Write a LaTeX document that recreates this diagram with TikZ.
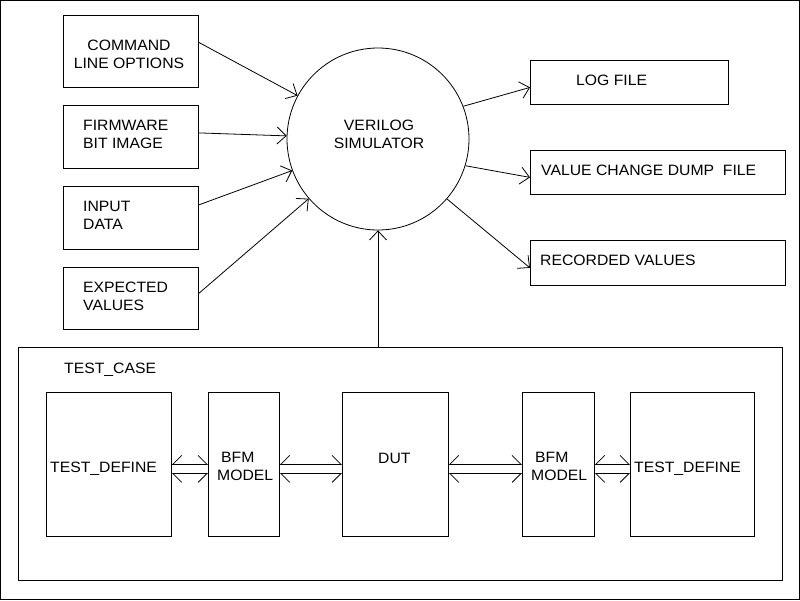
\documentclass[tikz,border=0pt]{standalone}
\usepackage{fontspec}
\setmainfont{Liberation Sans}[FakeStretch=1.05]
\usetikzlibrary{arrows.meta,shapes.geometric}
\begin{document}
\begin{tikzpicture}[x=1pt,y=-1pt,
  box/.style={draw,line width=0.8pt,inner sep=0pt,anchor=north west},
  txt/.style={inner sep=0pt,anchor=base west,font=\fontsize{15}{18}\selectfont,align=left},
  arr/.style={line width=0.8pt,-{Straight Barb[length=9pt,width=17pt,line width=0.8pt]}},
  hup/.style={line width=0.8pt,{Straight Barb[harpoon,swap,length=9pt,width=18pt,line width=0.8pt]}-{Straight Barb[harpoon,length=9pt,width=18pt,line width=0.8pt]}},
  hdn/.style={line width=0.8pt,{Straight Barb[harpoon,length=9pt,width=18pt,line width=0.8pt]}-{Straight Barb[harpoon,swap,length=9pt,width=18pt,line width=0.8pt]}}]
\useasboundingbox (0,0) rectangle (800,600);
\draw[line width=0.8pt] (0.5,0.5) rectangle (799.5,599.5);

% left input boxes
\node[box,minimum width=135pt,minimum height=72pt] (cmd) at (63,15) {};
\node[box,minimum width=135pt,minimum height=63pt] (fw) at (63,105) {};
\node[box,minimum width=135pt,minimum height=63pt] (inp) at (63,186) {};
\node[box,minimum width=135pt,minimum height=62pt] (exp) at (63,267) {};
\node[txt,anchor=base,align=center] (cmdt) at (129,68) {COMMAND\\LINE OPTIONS};
\node[txt] (fwt) at (83,148) {FIRMWARE\\BIT IMAGE};
\node[txt] (inpt) at (83,229) {INPUT\\DATA};
\node[txt] (expt) at (83,310) {EXPECTED\\VALUES};

% simulator
\node[draw,circle,line width=0.8pt,minimum size=182pt,inner sep=0pt] (sim) at (378,139) {};
\node[txt,anchor=base,align=center] (simt) at (379,148) {VERILOG\\SIMULATOR};

% output boxes
\node[box,minimum width=198pt,minimum height=44pt] (log) at (530,60) {};
\node[box,minimum width=255pt,minimum height=44pt] (vcd) at (530,150) {};
\node[box,minimum width=255pt,minimum height=45pt] (rec) at (530,240) {};
\node[txt] (logt) at (576,85) {LOG FILE};
\node[txt] (vcdt) at (541,175) {VALUE CHANGE DUMP\ \ FILE};
\node[txt] (rect) at (540,265) {RECORDED VALUES};

% arrows into simulator
\draw[arr] ([yshift=9pt]cmd.east) -- (sim);
\draw[arr] ([yshift=4pt]fw.east) -- (sim);
\draw[arr] ([yshift=13pt]inp.east) -- (sim);
\draw[arr] ([yshift=5pt]exp.east) -- (sim);

% arrows out of simulator
\draw[arr] (sim.21) -- ([yshift=-5pt]log.west);
\draw[arr] (sim.-17) -- ([yshift=-5pt]vcd.west);
\draw[arr] (sim.-41) -- ([yshift=-5pt]rec.west);

% test case
\node[box,minimum width=764pt,minimum height=233pt] (tc) at (18,347) {};
\node[txt] (tct) at (64,373) {TEST\_CASE};
\draw[arr] (sim.south |- tc.north) -- (sim.south);

\node[box,minimum width=125pt,minimum height=144pt] (td1) at (46,392) {};
\node[box,minimum width=71pt,minimum height=144pt] (bfm1) at (208,392) {};
\node[box,minimum width=106pt,minimum height=144pt] (dut) at (342,392) {};
\node[box,minimum width=72pt,minimum height=144pt] (bfm2) at (522,392) {};
\node[box,minimum width=124pt,minimum height=144pt] (td2) at (630,392) {};

\node[txt] (td1t) at (50,472) {TEST\_DEFINE};
\node[txt] (bfm1a) at (221,462) {BFM};
\node[txt] (bfm1b) at (217,480) {MODEL};
\node[txt] (dutt) at (378,463) {DUT};
\node[txt] (bfm2a) at (535,462) {BFM};
\node[txt] (bfm2b) at (531,480) {MODEL};
\node[txt] (td2t) at (634,472) {TEST\_DEFINE};

\foreach \a/\b in {td1/bfm1,bfm1/dut,dut/bfm2,bfm2/td2}{
  \draw[hup] (\a.east) -- (\b.west);
  \draw[hdn] ([yshift=-9pt]\a.east) -- ([yshift=-9pt]\b.west);
}
\end{tikzpicture}
\end{document}
